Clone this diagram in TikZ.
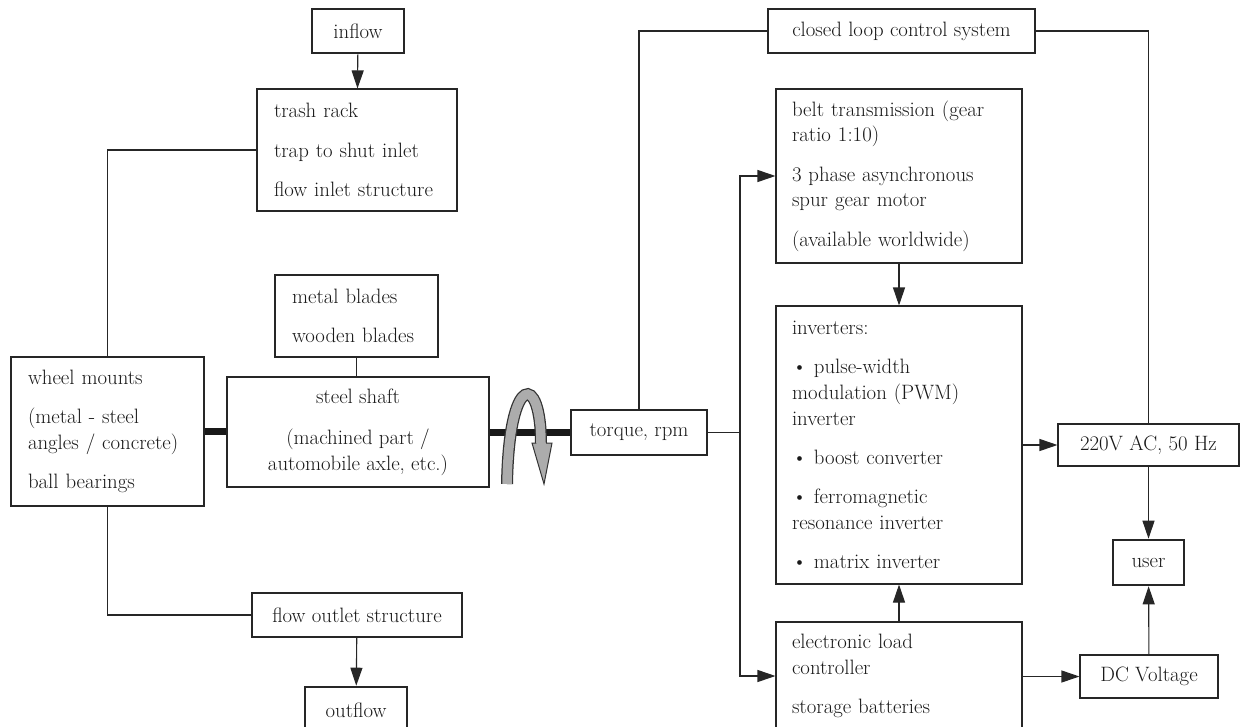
\documentclass[tikz,border=0pt]{standalone}
\usetikzlibrary{arrows.meta}
\begin{document}
\begin{tikzpicture}[x=1pt,y=-1pt,
  box/.style={draw=black!85, line width=1.1pt, fill=white, inner sep=0pt, text=black!90,
    font=\fontsize{20.8}{25.8}\selectfont},
  leftbox/.style={box, align=left},
  thickbox/.style={box, line width=2.6pt},
  conn/.style={draw=black!85, line width=1.1pt},
  arr/.style={conn, -{Triangle[length=18pt,width=12pt]}},
  shaftline/.style={draw=black!90, line width=6.5pt},
]
\useasboundingbox (0,0) rectangle (1241,727);

% left part
\node[thickbox, minimum width=92, minimum height=44] (inflow) at (358,31) {inflow};
\node[leftbox, minimum width=200, minimum height=122, text width=166] (trash) at (357,150)
  {\mbox{trash rack}\\[13.5pt]\mbox{trap to shut inlet}\\[13.5pt]\mbox{flow inlet structure}};
\node[leftbox, minimum width=163, minimum height=82, text width=129] (blades) at (356.5,316)
  {\mbox{metal blades}\\[13.5pt]\mbox{wooden blades}};
\node[leftbox, minimum width=193, minimum height=149, text width=159] (wheel) at (107.5,431.5)
  {\mbox{wheel mounts}\\[13.5pt]\mbox{(metal - steel}\\\mbox{angles / concrete)}\\[13.5pt]\mbox{ball bearings}};
\node[box, align=center, minimum width=262, minimum height=110] (shaft) at (358,432)
  {steel shaft\\[15pt](machined part /\\automobile axle, etc.)};
\node[box, minimum width=210, minimum height=44] (outlet) at (357,615) {flow outlet structure};
\node[thickbox, minimum width=102, minimum height=46] (outflow) at (356,710) {outflow};

% middle / right part
\node[thickbox, minimum width=136, minimum height=45] (torque) at (639,432.5) {torque, rpm};
\node[box, minimum width=267, minimum height=44] (closed) at (901.5,31) {closed loop control system};
\node[leftbox, minimum width=246, minimum height=174, text width=214] (belt) at (899,176)
  {\mbox{belt transmission (gear}\\\mbox{ratio 1:10)}\\[13.5pt]\mbox{3 phase asynchronous}\\\mbox{spur gear motor}\\[13.5pt]\mbox{(available worldwide)}};
\node[leftbox, minimum width=246, minimum height=278, text width=214] (inv) at (899,445)
  {\mbox{inverters:}\\[13.5pt]\mbox{\textbullet\ pulse-width}\\\mbox{modulation (PWM)}\\\mbox{inverter}\\[13.5pt]\mbox{\textbullet\ boost converter}\\[13.5pt]\mbox{\textbullet\ ferromagnetic}\\\mbox{resonance inverter}\\[13.5pt]\mbox{\textbullet\ matrix inverter}};
\node[leftbox, minimum width=246, minimum height=108, text width=214] (elc) at (899,676)
  {\mbox{electronic load}\\\mbox{controller}\\[13.5pt]\mbox{storage batteries}};
\node[box, minimum width=181, minimum height=42] (ac) at (1148.5,445) {220V AC, 50 Hz};
\node[thickbox, minimum width=71, minimum height=45] (user) at (1148.5,562.5) {user};
\node[box, minimum width=138, minimum height=43] (dc) at (1149,676.5) {DC Voltage};

\coordinate (j) at (740,432.5);

% connectors, left
\draw[arr] (inflow) -- (trash);
\draw[conn] (trash.west) -| (wheel.north);
\draw[conn] (wheel.south) |- (outlet.west);
\draw[arr] (outlet) -- (outflow);
\draw[conn] (blades.south) -- (blades.south |- shaft.north);
\draw[shaftline] (wheel.east) -- (shaft.west |- wheel.east);
\draw[shaftline] (shaft.east |- torque.west) -- (torque.west);

% rotation arrow
\coordinate (r0) at (507,484);
\coordinate (r1) at (541,444);
\draw[black!80, line width=12pt] (r0) .. controls (509,372) and (541,372) .. (r1);
\filldraw[fill=gray!65, draw=black!80, line width=1pt] (532,443) -- (552,443) -- (544,484) -- cycle;
\draw[gray!65, line width=9.5pt] (r0) .. controls (509,372) and (541,372) .. (r1);

% connectors, right
\draw[conn] (torque.north) |- (closed.west);
\draw[conn] (closed.east) -| (ac.north);
\draw[conn] (torque.east) -- (j);
\draw[arr] (j) |- (belt.west);
\draw[arr] (j) |- (elc.west);
\draw[arr] (belt) -- (inv);
\draw[arr] (elc) -- (inv);
\draw[arr] (inv) -- (ac);
\draw[arr] (ac) -- (user);
\draw[arr] (dc) -- (user);
\draw[arr] (elc.east |- dc.west) -- (dc.west);
\end{tikzpicture}
\end{document}
